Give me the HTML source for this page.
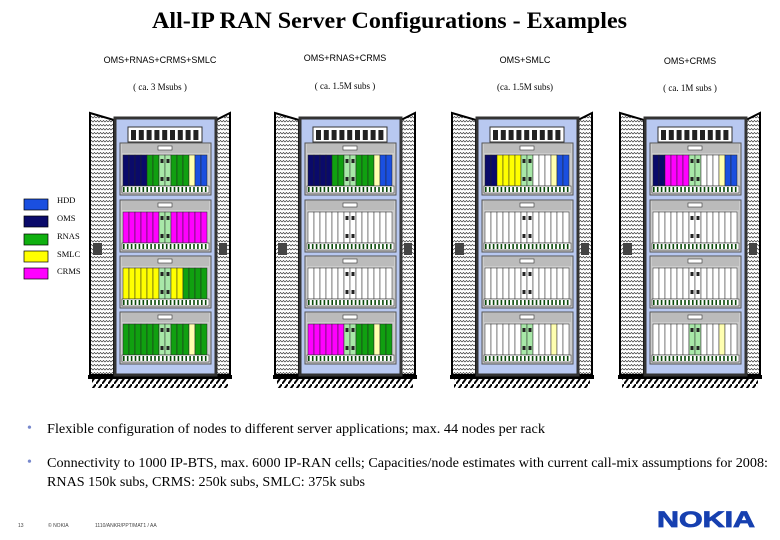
<!DOCTYPE html><html><head><meta charset="utf-8"><style>
body{margin:0;width:780px;height:540px;background:#fff;overflow:hidden;font-family:"Liberation Serif",serif}
svg{position:absolute;left:0;top:0}
</style></head><body>
<svg id="s" width="780" height="540" xmlns="http://www.w3.org/2000/svg">
<defs>
<pattern id="wv" width="6" height="4" patternUnits="userSpaceOnUse"><path d="M0 2 L1.5 0.5 L3 2 L4.5 0.5 L6 2" stroke="#333" stroke-width="0.7" fill="none"/></pattern>
<pattern id="ht" width="6" height="8" patternUnits="userSpaceOnUse"><path d="M6 0 L0 8" stroke="#000" stroke-width="2"/></pattern>
</defs>
<text x="152" y="28" font-size="23" font-weight="bold" font-family="Liberation Serif,serif" textLength="475" lengthAdjust="spacingAndGlyphs">All-IP RAN Server Configurations - Examples</text>
<g font-size="9" font-family="Liberation Sans,sans-serif" text-anchor="middle">
<text x="160" y="63">OMS+RNAS+CRMS+SMLC</text><text x="345" y="61">OMS+RNAS+CRMS</text><text x="525" y="63">OMS+SMLC</text><text x="690" y="64">OMS+CRMS</text>
<text x="160" y="90" font-family="Liberation Serif,serif">( ca. 3 Msubs )</text><text x="345" y="89" font-family="Liberation Serif,serif">( ca. 1.5M subs )</text><text x="525" y="90" font-family="Liberation Serif,serif">(ca. 1.5M subs)</text><text x="690" y="91" font-family="Liberation Serif,serif">( ca. 1M subs )</text>
</g>
<g id="racks"></g>
<g font-size="8.5" font-family="Liberation Serif,serif">
<rect x="24" y="199" width="24" height="11" fill="#1a4fe0" stroke="#000" stroke-width="0.7"/><text x="57" y="203">HDD</text>
<rect x="24" y="216" width="24" height="11" fill="#0a0a6a" stroke="#000" stroke-width="0.7"/><text x="57" y="221">OMS</text>
<rect x="24" y="234" width="24" height="11" fill="#10b010" stroke="#000" stroke-width="0.7"/><text x="57" y="239">RNAS</text>
<rect x="24" y="251" width="24" height="11" fill="#ffff00" stroke="#000" stroke-width="0.7"/><text x="57" y="257">SMLC</text>
<rect x="24" y="268" width="24" height="11" fill="#ff00ff" stroke="#000" stroke-width="0.7"/><text x="57" y="274">CRMS</text>
</g>
<g font-size="14" font-family="Liberation Serif,serif">
<text x="27" y="432" fill="#7788cc">•</text><text x="47" y="433" textLength="498" lengthAdjust="spacingAndGlyphs">Flexible configuration of nodes to different server applications; max. 44 nodes per rack</text>
<text x="27" y="466" fill="#7788cc">•</text><text x="47" y="467" textLength="721" lengthAdjust="spacingAndGlyphs">Connectivity to 1000 IP-BTS, max. 6000 IP-RAN cells; Capacities/node estimates with current call-mix assumptions for 2008:</text>
<text x="47" y="486" textLength="318" lengthAdjust="spacingAndGlyphs">RNAS 150k subs, CRMS: 250k subs, SMLC: 375k subs</text>
</g>
<g font-size="5" fill="#444" font-family="Liberation Sans,sans-serif"><text x="18" y="527">13</text><text x="48" y="527">© NOKIA</text><text x="95" y="527">1110/ANKR/PPT/MAT1 / AA</text></g>
<text x="657" y="527" font-size="22" font-weight="bold" fill="#1740b0" stroke="#1740b0" stroke-width="0.8" font-family="Liberation Sans,sans-serif" textLength="98" lengthAdjust="spacingAndGlyphs">NOKIA</text>
</svg>
<script>
var C={N:"#0a0a6a",B:"#1a4fe0",G:"#10a010",Y:"#ffff00",M:"#ff00ff",W:"#ffffff",L:"#a8e8a8",l:"#ffffb0"};
var racks=[[90,["NNNNGGLLGGGlBB","MMMMMMLLMMMMMM","YYYYYYLLYYGGGG","GGGGGGLLGGGlGG"]],
[275,["NNNNGGLLGGGlBB","WWWWWWWWWWWWWW","WWWWWWWWWWWWWW","MMMMMMLLGGGlGG"]],
[452,["NNYYYYLLWWWlBB","WWWWWWWWWWWWWW","WWWWWWWWWWWWWW","WWWWWWLLWWWlWW"]],
[620,["NNMMMMLLWWWlBB","WWWWWWWWWWWWWW","WWWWWWWWWWWWWW","WWWWWWLLWWWlWW"]]];
var h="";
racks.forEach(function(r){var x=r[0];
h+='<rect x="'+(x+2)+'" y="379" width="136" height="9" fill="url(#ht)"/>';
h+='<rect x="'+(x-2)+'" y="375" width="144" height="4" fill="#000"/>';
h+='<polygon points="'+x+',113 '+(x+24)+',120 '+(x+24)+',375 '+x+',375" fill="url(#wv)" stroke="#000" stroke-width="2"/>';
h+='<polygon points="'+(x+126)+',120 '+(x+140)+',113 '+(x+140)+',375 '+(x+126)+',375" fill="url(#wv)" stroke="#000" stroke-width="2"/>';
h+='<rect x="'+(x+3)+'" y="243" width="9" height="12" fill="#444"/><rect x="'+(x+129)+'" y="243" width="8" height="12" fill="#444"/>';
h+='<rect x="'+(x+25)+'" y="118" width="101" height="257" fill="#b8c8f0" stroke="#333" stroke-width="3"/>';
h+='<rect x="'+(x+38)+'" y="127" width="74" height="15" fill="#fff" stroke="#333"/>';
for(var i=0;i<9;i++)h+='<rect x="'+(x+41+i*7.8)+'" y="130" width="5" height="10" fill="#222"/>';
var ys=[143,200,256,312];
r[1].forEach(function(s,k){var y=ys[k];
h+='<rect x="'+(x+30)+'" y="'+y+'" width="91" height="52" fill="#ccc" stroke="#555"/>';
h+='<rect x="'+(x+32)+'" y="'+(y+1)+'" width="87" height="9" fill="#bbb"/>';
h+='<rect x="'+(x+68)+'" y="'+(y+3)+'" width="14" height="4" fill="#fff" stroke="#333" stroke-width="0.6"/>';
for(var j=0;j<14;j++){var cx=x+33+j*6;h+='<rect x="'+cx+'" y="'+(y+12)+'" width="6" height="31" fill="'+C[s[j]]+'" stroke="#222" stroke-width="0.5"/>';
if(s[j]=="L"||(s[j]=="W"&&(j==6||j==7)))h+='<rect x="'+(cx+1.5)+'" y="'+(y+16)+'" width="3" height="4" fill="#222"/><rect x="'+(cx+1.5)+'" y="'+(y+34)+'" width="3" height="4" fill="#222"/>';}
h+='<rect x="'+(x+32)+'" y="'+(y+43)+'" width="87" height="7" fill="#fff" stroke="#333" stroke-width="0.6"/>';
for(var j=0;j<22;j++)h+='<rect x="'+(x+33+j*3.9)+'" y="'+(y+44)+'" width="1.6" height="5" fill="#0a4a0a"/>';
});});
document.getElementById("racks").innerHTML=h;
</script>
</body></html>
